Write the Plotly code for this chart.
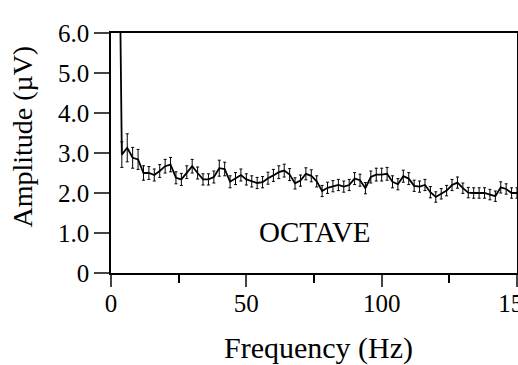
import plotly.graph_objects as go

freq_hz = [2, 4, 6, 8, 10, 12, 14, 16, 18, 20, 22, 24, 26, 28, 30, 32, 34, 36, 38, 40,
           42, 44, 46, 48, 50, 52, 54, 56, 58, 60, 62, 64, 66, 68, 70, 72, 74, 76, 78, 80,
           82, 84, 86, 88, 90, 92, 94, 96, 98, 100, 102, 104, 106, 108, 110, 112, 114, 116, 118, 120,
           122, 124, 126, 128, 130, 132, 134, 136, 138, 140, 142, 144, 146, 148, 150]
amplitude_uv = [15.0, 2.96, 3.13, 2.88, 2.84, 2.50, 2.50, 2.45, 2.55, 2.67, 2.71, 2.38, 2.34, 2.52, 2.67, 2.50, 2.34, 2.34, 2.40, 2.62,
                2.60, 2.28, 2.36, 2.45, 2.34, 2.29, 2.25, 2.27, 2.37, 2.44, 2.52, 2.56, 2.46, 2.24, 2.31, 2.48, 2.43, 2.29, 2.05, 2.13,
                2.17, 2.20, 2.16, 2.20, 2.36, 2.32, 2.12, 2.40, 2.46, 2.46, 2.48, 2.28, 2.22, 2.42, 2.36, 2.18, 2.16, 2.20, 2.02, 1.90,
                1.98, 2.06, 2.20, 2.26, 2.12, 2.01, 2.00, 2.00, 2.00, 1.96, 1.92, 2.14, 2.10, 2.00, 2.00]
sem_uv = [0.0, 0.32, 0.35, 0.26, 0.25, 0.18, 0.16, 0.15, 0.16, 0.17, 0.18, 0.15, 0.15, 0.16, 0.17, 0.15, 0.14, 0.14, 0.15, 0.20,
          0.17, 0.15, 0.15, 0.15, 0.14, 0.14, 0.14, 0.14, 0.15, 0.15, 0.16, 0.16, 0.15, 0.14, 0.14, 0.15, 0.15, 0.14, 0.14, 0.14,
          0.14, 0.14, 0.14, 0.14, 0.15, 0.15, 0.14, 0.15, 0.16, 0.16, 0.16, 0.15, 0.14, 0.15, 0.15, 0.14, 0.14, 0.14, 0.14, 0.13,
          0.13, 0.13, 0.14, 0.14, 0.13, 0.13, 0.13, 0.13, 0.13, 0.13, 0.13, 0.14, 0.13, 0.13, 0.13]

x_ticks = [0, 50, 100, 150]
y_ticks = [0, 1, 2, 3, 4, 5, 6]
y_tick_labels = ["0", "1.0", "2.0", "3.0", "4.0", "5.0", "6.0"]

FONT = "Liberation Serif"

fig = go.Figure()
fig.add_trace(go.Scatter(
    x=freq_hz, y=amplitude_uv, mode="lines",
    line=dict(color="black", width=1.8),
    error_y=dict(type="data", array=sem_uv, visible=True, color="black", thickness=1, width=1.5),
    showlegend=False,
))

fig.add_annotation(x=75.5, y=1.03, xref="x", yref="y", text="OCTAVE", showarrow=False,
                   xanchor="center", yanchor="middle",
                   font=dict(family=FONT, size=29, color="black"))
fig.add_annotation(x=0.51, y=-0.313, xref="paper", yref="paper", text="Frequency (Hz)",
                   showarrow=False, xanchor="center", yanchor="middle",
                   font=dict(family=FONT, size=30, color="black"))
fig.add_annotation(x=-0.217, y=0.568, xref="paper", yref="paper", text="Amplitude (µV)",
                   showarrow=False, textangle=-90, xanchor="center", yanchor="middle",
                   font=dict(family=FONT, size=28, color="black"))

fig.update_layout(
    width=518, height=365,
    margin=dict(l=111, r=1, t=33, b=92, autoexpand=False),
    paper_bgcolor="white", plot_bgcolor="white",
    font=dict(family=FONT, size=25, color="black"),
    xaxis=dict(range=[0, 150], tickvals=x_ticks, ticks="outside", ticklen=12, tickwidth=1.5,
               ticklabeloverflow="allow", ticklabelstandoff=-5, automargin=False,
               showgrid=False, zeroline=False, showline=True, linecolor="black", linewidth=1.5,
               mirror=True,
               minor=dict(tickvals=[25, 75, 125], ticks="outside", ticklen=8, tickwidth=1.5, tickcolor="black")),
    yaxis=dict(range=[0, 6], tickvals=y_ticks, ticktext=y_tick_labels, ticks="outside", ticklen=15,
               tickwidth=1.5, showgrid=False, zeroline=False, showline=True, linecolor="black",
               linewidth=1.5, mirror=True, automargin=False),
)

fig.write_html("out.html")
